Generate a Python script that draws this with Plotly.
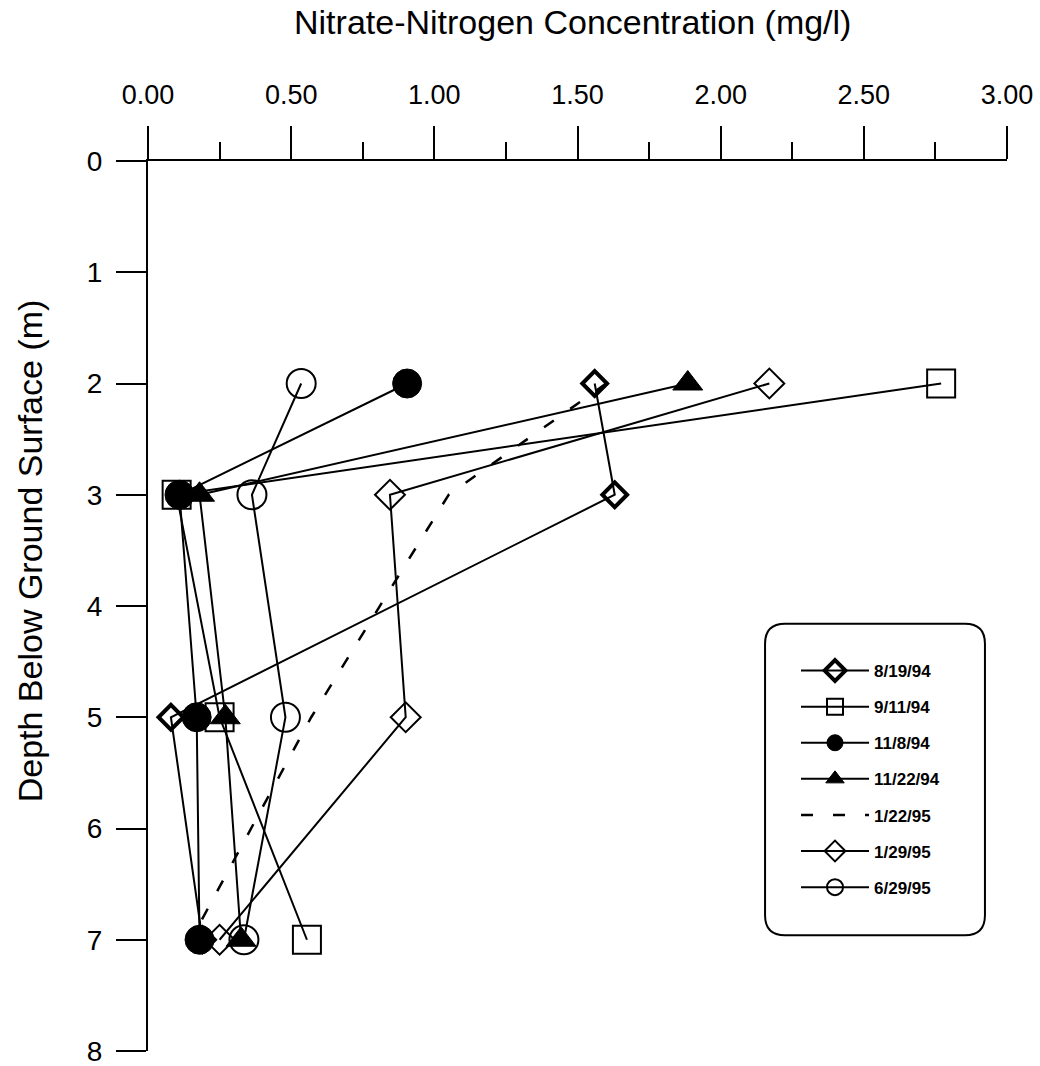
import plotly.graph_objects as go

# ---- data ----
depth_m = [2, 3, 5, 7]
series_names = ["8/19/94", "9/11/94", "11/8/94", "11/22/94", "1/22/95", "1/29/95", "6/29/95"]
no3_0819_94 = [1.56, 1.63, 0.08, 0.19]
no3_0911_94 = [2.77, 0.10, 0.25, 0.555]
no3_1108_94 = [0.905, 0.11, 0.17, 0.18]
no3_1122_94 = [1.885, 0.18, 0.27, 0.325]
no3_0122_95 = [1.60, 1.05, 0.57, 0.15]
no3_0129_95 = [2.17, 0.845, 0.90, 0.25]
no3_0629_95 = [0.535, 0.363, 0.48, 0.335]
x_ticks = [0.0, 0.5, 1.0, 1.5, 2.0, 2.5, 3.0]
y_ticks = [0, 1, 2, 3, 4, 5, 6, 7, 8]

BLACK = "#000000"
FONT = "Liberation Sans, Arial, sans-serif"

styles = [
    dict(symbol="diamond-open", size=19, lw=4),
    dict(symbol="square-open", size=28, lw=2),
    dict(symbol="circle", size=29, lw=1),
    dict(symbol="triangle-up", size=26, lw=1),
    None,
    dict(symbol="diamond-open", size=23, lw=2),
    dict(symbol="circle-open", size=29, lw=2),
]
values = [no3_0819_94, no3_0911_94, no3_1108_94, no3_1122_94, no3_0122_95, no3_0129_95, no3_0629_95]

fig = go.Figure()
for i, (name, vals, st) in enumerate(zip(series_names, values, styles)):
    if st is None:
        fig.add_trace(go.Scatter(
            x=vals, y=depth_m, name=name, mode="lines", legendgroup=f"g{i}",
            line=dict(color=BLACK, width=2.5, dash="12px,20px"),
        ))
    else:
        fig.add_trace(go.Scatter(
            x=vals, y=depth_m, name=name, mode="lines+markers", legendgroup=f"g{i}",
            line=dict(color=BLACK, width=2),
            marker=dict(symbol=st["symbol"], size=st["size"], color=BLACK,
                        line=dict(color=BLACK, width=st["lw"])),
        ))

# rounded legend frame (data coordinates)
x0, x1, y0, y1 = 2.155, 2.923, 4.16, 6.96
rx, ry = 0.07, 0.18
path = (f"M {x0+rx},{y0} L {x1-rx},{y0} Q {x1},{y0} {x1},{y0+ry} "
        f"L {x1},{y1-ry} Q {x1},{y1} {x1-rx},{y1} L {x0+rx},{y1} "
        f"Q {x0},{y1} {x0},{y1-ry} L {x0},{y0+ry} Q {x0},{y0} {x0+rx},{y0} Z")
fig.add_shape(type="path", path=path, xref="x", yref="y",
              line=dict(color=BLACK, width=2), layer="below")

PLOT_TOP, PLOT_H = 161, 890

fig.update_layout(
    width=1040, height=1066,
    margin=dict(l=148, r=33, t=PLOT_TOP, b=1066 - PLOT_TOP - PLOT_H, autoexpand=False),
    paper_bgcolor="white", plot_bgcolor="white",
    font=dict(family=FONT, color=BLACK),
    showlegend=True,
    legend=dict(
        x=(796 - 148) / 859, y=1 - (653 - PLOT_TOP) / PLOT_H, xanchor="left", yanchor="top",
        bgcolor="rgba(0,0,0,0)", borderwidth=0,
        font=dict(family=FONT, size=17, color=BLACK, weight="bold"),
        tracegroupgap=11, itemwidth=68, traceorder="grouped",
    ),
    xaxis=dict(
        side="top", range=[0, 3], tickvals=x_ticks, tickformat=".2f",
        ticks="outside", ticklen=33, tickwidth=2, tickcolor=BLACK,
        minor=dict(dtick=0.25, ticks="outside", ticklen=17, tickwidth=2, tickcolor=BLACK),
        showline=True, linewidth=2, linecolor=BLACK,
        showgrid=False, zeroline=False, automargin=False,
        tickfont=dict(family=FONT, size=27, color=BLACK),
        ticklabelstandoff=11,
    ),
    yaxis=dict(
        range=[8, 0], tickvals=y_ticks,
        ticks="outside", ticklen=30, tickwidth=2, tickcolor=BLACK,
        showline=True, linewidth=2, linecolor=BLACK,
        showgrid=False, zeroline=False, automargin=False,
        tickfont=dict(family=FONT, size=28, color=BLACK),
        ticklabelstandoff=8, ticklabeloverflow="allow",
    ),
    annotations=[
        dict(text="Nitrate-Nitrogen Concentration (mg/l)", xref="paper", yref="paper",
             x=0.494, y=1 + (PLOT_TOP - 22) / PLOT_H, xanchor="center", yanchor="middle",
             showarrow=False, font=dict(family=FONT, size=34, color=BLACK)),
        dict(text="Depth Below Ground Surface (m)", xref="paper", yref="paper",
             x=-0.137, y=1 - (551 - PLOT_TOP) / PLOT_H, xanchor="center", yanchor="middle",
             showarrow=False, textangle=-90, font=dict(family=FONT, size=34, color=BLACK)),
    ],
)

fig.write_html("out.html")
